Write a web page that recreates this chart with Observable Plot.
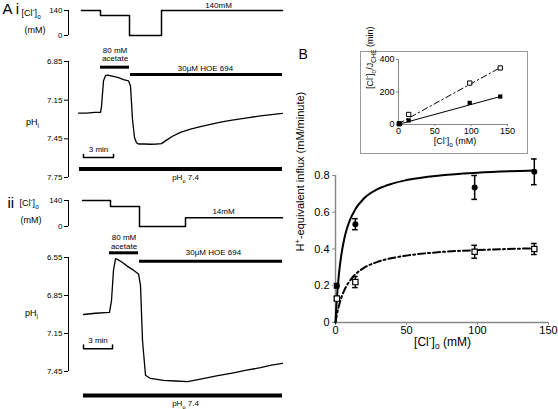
<!DOCTYPE html>
<html><head><meta charset="utf-8">
<script src="https://cdn.jsdelivr.net/npm/d3@7"></script>
<script src="https://cdn.jsdelivr.net/npm/@observablehq/plot@0.6"></script>
<style>
html,body{margin:0;padding:0;background:#fff;}
#fig{position:relative;width:558px;height:409px;overflow:hidden;background:#fff;}
#fig svg{position:absolute;}
</style></head><body><div id="fig"></div>
<script>
// ---------- Panel A i : [Cl-]o protocol (time in min, value in mM) ----------
const aiClTime  = [1.3, 3.2, 3.2, 6.1, 6.1, 9.3, 9.3, 21.4];
const aiClValue = [140, 140, 112, 112, 0, 0, 140, 140];
const aiClTicks = [0, 140];
// ---------- Panel A i : pHi trace ----------
const aiPhTime  = [1.0, 1.8, 2.6, 3.2, 3.3, 3.5, 3.7, 3.9, 4.5, 5.0, 5.5, 6.0, 6.2, 6.4, 6.6, 6.8, 7.0, 7.6, 8.2, 8.8, 9.3, 9.8, 10.4, 11.2, 12.2, 13.2, 14.2, 15.2, 16.2, 17.2, 18.2, 19.2, 20.3, 21.4];
const aiPhValue = [7.25, 7.25, 7.245, 7.245, 7.20, 7.00, 6.96, 6.955, 6.965, 6.975, 6.99, 7.00, 7.04, 7.30, 7.44, 7.48, 7.49, 7.49, 7.492, 7.49, 7.487, 7.46, 7.43, 7.40, 7.375, 7.355, 7.337, 7.32, 7.307, 7.295, 7.283, 7.272, 7.262, 7.252];
const aiPhTicks = [6.85, 7.15, 7.45, 7.75];
const aiAcetate = [3.2, 6.1];
const aiHoe = [6.2, 21.4];
const aiScale = [1.5, 4.5];
const aiPho = [1.1, 21.4];

// ---------- Panel A ii : [Cl-]o protocol ----------
const aiiClTime  = [1.4, 4.2, 4.2, 7.1, 7.1, 11.7, 11.7, 21.4];
const aiiClValue = [140, 140, 108, 108, 0, 0, 47, 47];
const aiiClTicks = [0, 140];
// ---------- Panel A ii : pHi trace ----------
const aiiPhTime  = [1.5, 2.7, 4.1, 4.3, 4.5, 4.7, 4.9, 5.4, 5.9, 6.5, 7.0, 7.2, 7.4, 7.7, 8.2, 9.5, 10.7, 11.9, 13.2, 14.8, 16.5, 17.8, 19.2, 20.3, 21.4];
const aiiPhValue = [7.00, 6.99, 6.984, 6.89, 6.65, 6.56, 6.565, 6.59, 6.62, 6.65, 6.68, 6.77, 7.205, 7.48, 7.505, 7.52, 7.525, 7.53, 7.51, 7.485, 7.46, 7.44, 7.42, 7.40, 7.385];
const aiiPhTicks = [6.55, 6.85, 7.15, 7.45];
const aiiAcetate = [4.1, 7.0];
const aiiHoe = [7.1, 21.4];
const aiiScale = [1.5, 4.4];
const aiiPho = [1.5, 21.4];

// ---------- Panel B : H+-equivalent influx vs [Cl-]o ----------
const bConc = [1, 14, 98, 140];
const bFilled = [0.20, 0.535, 0.735, 0.82];
const bFilledErr = [0.012, 0.03, 0.065, 0.07];
const bOpen = [0.13, 0.22, 0.385, 0.40];
const bOpenErr = [0.01, 0.03, 0.035, 0.03];
const curveConc  = [0, 0.5, 1, 2, 3, 4, 6, 8, 10, 14, 20, 30, 40, 50, 75, 100, 140];
const curveSolid = [0, 0.072, 0.132, 0.229, 0.304, 0.362, 0.449, 0.51, 0.555, 0.617, 0.675, 0.727, 0.756, 0.775, 0.801, 0.815, 0.8275];
const curveDash  = [0, 0.023, 0.043, 0.078, 0.108, 0.132, 0.172, 0.202, 0.226, 0.262, 0.297, 0.331, 0.351, 0.364, 0.384, 0.394, 0.404];
const bXTicks = [0, 50, 100, 150];
const bYTicks = [0, 0.2, 0.4, 0.6, 0.8];

// ---------- Inset : [Cl-]o / J_CHE ----------
const insetConc = [1, 14, 98, 140];
const insetOpen = [5, 62, 255, 348];
const insetFilled = [3, 25, 133, 172];
const insetFitConc = [0, 140];
const insetFitOpen = [5, 350];
const insetFitFilled = [1, 172];
const insetXTicks = [0, 50, 100, 150];
const insetYTicks = [0, 200, 400];

// ---------- helpers ----------
const FONT = "'Liberation Sans', Arial, Helvetica, sans-serif";
const fig = document.getElementById("fig");
const zipTV = (t, v) => t.map((d, i) => ({t: d, v: v[i]}));
function st(fs) { return {fontFamily: FONT, fontSize: fs + "px", background: "transparent", overflow: "visible", color: "black"}; }
function rich(svg) {
  d3.select(svg).selectAll("text").each(function () {
    const el = this, s = el.textContent;
    if (!/[_^]\{/.test(s)) return;
    const fs = parseFloat(getComputedStyle(el).fontSize) || 10;
    while (el.firstChild) el.removeChild(el.firstChild);
    const re = /([_^])\{([^}]*)\}|([^_^]+)/g;
    let m, off = 0;
    while ((m = re.exec(s))) {
      const ts = document.createElementNS("http://www.w3.org/2000/svg", "tspan");
      if (m[3] !== undefined) {
        ts.textContent = m[3];
        if (off) { ts.setAttribute("dy", (-off) + "px"); off = 0; }
      } else {
        const shift = m[1] === "_" ? 0.3 * fs : -0.4 * fs;
        ts.textContent = m[2];
        ts.setAttribute("font-size", (0.7 * fs) + "px");
        ts.setAttribute("dy", (shift - off) + "px");
        off = shift;
      }
      el.appendChild(ts);
    }
  });
}
function place(svg, left, top, extra) {
  svg.style.left = left + "px"; svg.style.top = top + "px";
  if (extra) Object.assign(svg.style, extra);
  fig.appendChild(svg); rich(svg);
}
const scaleBar = (r, lo, hi) => [{t: r[0], v: lo}, {t: r[0], v: hi}, {t: r[1], v: hi}, {t: r[1], v: lo}];

// ---------- A i : Cl ----------
place(Plot.plot({
  width: 290, height: 45, marginLeft: 68, marginRight: 0, marginTop: 10, marginBottom: 10,
  x: {domain: [0, 22.2], axis: null}, y: {domain: [0, 140]},
  style: st(8),
  marks: [
    Plot.ruleX([0], {y1: 0, y2: 140}),
    Plot.axisY({ticks: aiClTicks, tickSize: 4, tickPadding: 2, label: null}),
    Plot.line(zipTV(aiClTime, aiClValue), {x: "t", y: "v", strokeWidth: 1.5}),
    Plot.text(["140mM"], {x: 15.0, y: 140, dy: -5}),
    Plot.text(["A i"], {x: -6.6, y: 146, textAnchor: "start", fontSize: 15}),
    Plot.text(["[Cl^{-}]_{o}"], {x: -4.7, y: 126, textAnchor: "start", fontSize: 9}),
    Plot.text(["(mM)"], {x: -4.4, y: 28, textAnchor: "start", fontSize: 9})
  ]
}), 0, 0);

// ---------- A i : pH ----------
place(Plot.plot({
  width: 290, height: 145, marginLeft: 68, marginRight: 0, marginTop: 16, marginBottom: 13,
  x: {domain: [0, 22.2], axis: null}, y: {domain: [6.85, 7.75], reverse: true},
  style: st(8),
  marks: [
    Plot.ruleX([0], {y1: 6.85, y2: 7.75}),
    Plot.axisY({ticks: aiPhTicks, tickFormat: d3.format(".2f"), tickSize: 4, tickPadding: 2, label: null}),
    Plot.line(zipTV(aiPhTime, aiPhValue), {x: "t", y: "v", strokeWidth: 1.3}),
    Plot.ruleY([6.894], {x1: aiAcetate[0], x2: aiAcetate[1], strokeWidth: 3}),
    Plot.text(["80 mM"], {x: (aiAcetate[0] + aiAcetate[1]) / 2, y: 6.762}),
    Plot.text(["acetate"], {x: (aiAcetate[0] + aiAcetate[1]) / 2, y: 6.83}),
    Plot.ruleY([6.95], {x1: aiHoe[0], x2: aiHoe[1], strokeWidth: 3}),
    Plot.text(["30µM HOE 694"], {x: 13.7, y: 6.902}),
    Plot.line(scaleBar(aiScale, 7.572, 7.595), {x: "t", y: "v", strokeWidth: 1.5}),
    Plot.text(["3 min"], {x: (aiScale[0] + aiScale[1]) / 2, y: 7.535}),
    Plot.ruleY([7.684], {x1: aiPho[0], x2: aiPho[1], strokeWidth: 4}),
    Plot.text(["pH_{o} 7.4"], {x: 11.7, y: 7.752}),
    Plot.text(["pH_{i}"], {x: -3.6, y: 7.32, fontSize: 9})
  ]
}), 0, 45);

// ---------- A ii : Cl ----------
place(Plot.plot({
  width: 290, height: 46, marginLeft: 68, marginRight: 0, marginTop: 10, marginBottom: 10,
  x: {domain: [0, 22.2], axis: null}, y: {domain: [0, 140]},
  style: st(8),
  marks: [
    Plot.ruleX([0], {y1: 0, y2: 140}),
    Plot.axisY({ticks: aiiClTicks, tickSize: 4, tickPadding: 2, label: null}),
    Plot.line(zipTV(aiiClTime, aiiClValue), {x: "t", y: "v", strokeWidth: 1.5}),
    Plot.text(["14mM"], {x: 15.5, y: 81}),
    Plot.text(["ii"], {x: -6.1, y: 126, textAnchor: "start", fontSize: 15}),
    Plot.text(["[Cl^{-}]_{o}"], {x: -4.9, y: 126, textAnchor: "start", fontSize: 9}),
    Plot.text(["(mM)"], {x: -4.8, y: 32, textAnchor: "start", fontSize: 9})
  ]
}), 0, 190);

// ---------- A ii : pH ----------
place(Plot.plot({
  width: 290, height: 173, marginLeft: 68, marginRight: 0, marginTop: 21, marginBottom: 38,
  x: {domain: [0, 22.2], axis: null}, y: {domain: [6.55, 7.45], reverse: true},
  style: st(8),
  marks: [
    Plot.ruleX([0], {y1: 6.55, y2: 7.45}),
    Plot.axisY({ticks: aiiPhTicks, tickFormat: d3.format(".2f"), tickSize: 4, tickPadding: 2, label: null}),
    Plot.line(zipTV(aiiPhTime, aiiPhValue), {x: "t", y: "v", strokeWidth: 1.3}),
    Plot.ruleY([6.513], {x1: aiiAcetate[0], x2: aiiAcetate[1], strokeWidth: 3}),
    Plot.text(["80 mM"], {x: (aiiAcetate[0] + aiiAcetate[1]) / 2, y: 6.392}),
    Plot.text(["acetate"], {x: (aiiAcetate[0] + aiiAcetate[1]) / 2, y: 6.466}),
    Plot.ruleY([6.579], {x1: aiiHoe[0], x2: aiiHoe[1], strokeWidth: 3}),
    Plot.text(["30µM HOE 694"], {x: 14.5, y: 6.513}),
    Plot.line(scaleBar(aiiScale, 7.24, 7.27), {x: "t", y: "v", strokeWidth: 1.5}),
    Plot.text(["3 min"], {x: (aiiScale[0] + aiiScale[1]) / 2, y: 7.205}),
    Plot.ruleY([7.64], {x1: aiiPho[0], x2: aiiPho[1], strokeWidth: 4}),
    Plot.text(["pH_{o} 7.4"], {x: 11.7, y: 7.705}),
    Plot.text(["pH_{i}"], {x: -3.7, y: 6.99, fontSize: 9})
  ]
}), 0, 236);

// ---------- B : main ----------
const bFilledData = bConc.map((x, i) => ({x, y: bFilled[i], e: bFilledErr[i]}));
const bOpenData = bConc.map((x, i) => ({x, y: bOpen[i], e: bOpenErr[i]}));
const errMarks = (data) => [
  Plot.ruleX(data, {x: "x", y1: d => d.y - d.e, y2: d => d.y + d.e, strokeWidth: 1.5}),
  Plot.ruleY(data, {y: d => d.y + d.e, x1: d => d.x - 2, x2: d => d.x + 2, strokeWidth: 1.5}),
  Plot.ruleY(data, {y: d => d.y - d.e, x1: d => d.x - 2, x2: d => d.x + 2, strokeWidth: 1.5})
];
place(Plot.plot({
  width: 278, height: 259, marginLeft: 55, marginRight: 10, marginTop: 25, marginBottom: 87,
  x: {domain: [0, 150]}, y: {domain: [0, 0.8]},
  style: st(11),
  marks: [
    Plot.ruleX([0], {y1: 0, y2: 0.8, stroke: "#888", strokeWidth: 1.5}),
    Plot.ruleY([0], {x1: 0, x2: 150, stroke: "#888", strokeWidth: 1.5}),
    Plot.axisY({ticks: bYTicks, tickFormat: d => d === 0 ? "0" : d.toFixed(1), tickSize: 3, tickPadding: 3, stroke: "#888", label: null}),
    Plot.axisX({ticks: bXTicks, tickSize: 3, tickPadding: 1, stroke: "#888", label: null}),
    Plot.line(zipTV(curveConc, curveSolid), {x: "t", y: "v", strokeWidth: 2, curve: "monotone-x"}),
    Plot.line(zipTV(curveConc, curveDash), {x: "t", y: "v", strokeWidth: 2, strokeDasharray: "7,3,2,3", curve: "monotone-x"}),
    ...errMarks(bFilledData),
    ...errMarks(bOpenData),
    Plot.dot(bFilledData, {x: "x", y: "y", r: 3, fill: "black", symbol: "circle"}),
    Plot.dot(bOpenData, {x: "x", y: "y", r: 3, fill: "white", stroke: "black", strokeWidth: 1.2, symbol: "square"}),
    Plot.text(["B"], {frameAnchor: "top-left", dx: -37, dy: -126, textAnchor: "start", fontSize: 14}),
    Plot.text(["H^{+}-equivalent influx (mM/minute)"], {frameAnchor: "left", rotate: -90, dx: -35, dy: 2.5, fontSize: 11}),
    Plot.text(["[Cl^{-}]_{o} (mM)"], {frameAnchor: "bottom", dx: 0.5, dy: 23, fontSize: 12})
  ]
}), 280, 150);

// ---------- Inset ----------
place(Plot.plot({
  width: 166, height: 101, marginLeft: 37, marginRight: 20, marginTop: 7, marginBottom: 29,
  x: {domain: [0, 150]}, y: {domain: [0, 400]},
  style: st(9),
  marks: [
    Plot.ruleX([0], {y1: 0, y2: 400, stroke: "#888"}),
    Plot.ruleY([0], {x1: 0, x2: 150, stroke: "#888"}),
    Plot.axisY({ticks: insetYTicks, tickSize: 2, tickPadding: 2, stroke: "#888", label: null}),
    Plot.axisX({ticks: insetXTicks, tickSize: 2, tickPadding: 1, stroke: "#888", label: null}),
    Plot.line(zipTV(insetFitConc, insetFitOpen), {x: "t", y: "v", strokeWidth: 1, strokeDasharray: "6,3,1.5,3"}),
    Plot.line(zipTV(insetFitConc, insetFitFilled), {x: "t", y: "v", strokeWidth: 1}),
    Plot.dot(zipTV(insetConc, insetOpen), {x: "t", y: "v", r: 2.4, symbol: "square", fill: "white", stroke: "black", strokeWidth: 1}),
    Plot.dot(zipTV(insetConc, insetFilled), {x: "t", y: "v", r: 2.4, symbol: "square", fill: "black"}),
    Plot.text(["[Cl^{-}]_{o}/J_{CHE} (min)"], {frameAnchor: "left", rotate: -90, dx: -28.5, dy: -3, fontSize: 9}),
    Plot.text(["[Cl^{-}]_{o} (mM)"], {frameAnchor: "bottom", dx: 2, dy: 19.5, fontSize: 9})
  ]
}), 360, 51, {border: "1.5px solid #999"});
</script></body></html>
